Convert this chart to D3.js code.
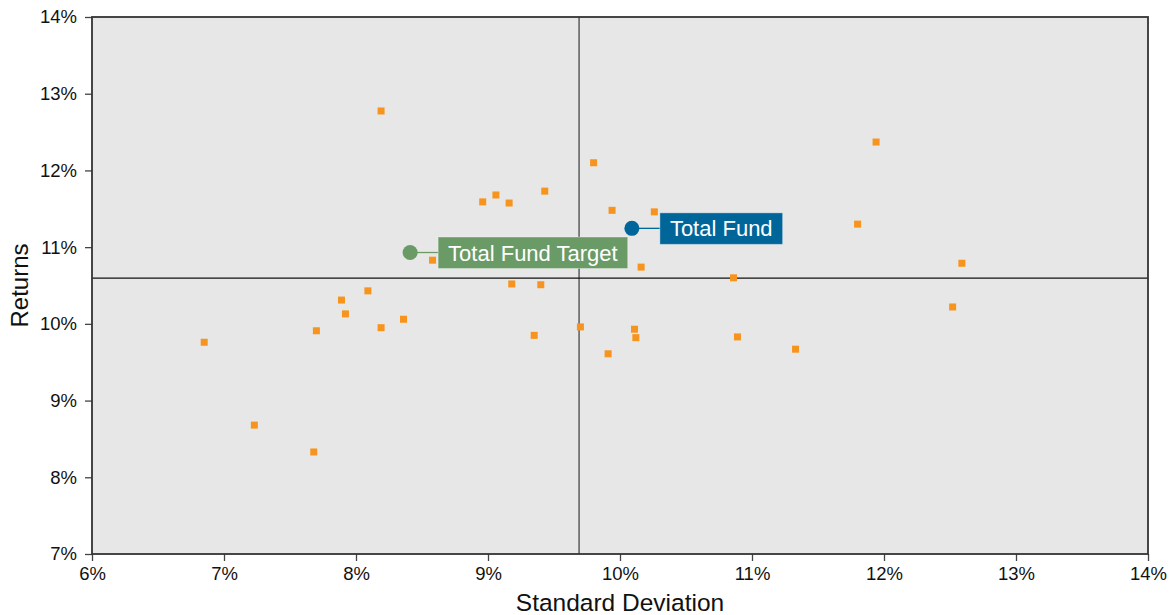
<!DOCTYPE html>
<html>
<head>
<meta charset="utf-8">
<script src="https://cdn.jsdelivr.net/npm/d3@7/dist/d3.min.js"></script>
<style>
    body { margin: 0; background: #fff; }
    svg text { font-family: "Liberation Sans", Arial, sans-serif; }
</style>
</head>
<body>
<div id="chart"></div>
<script>
// peer universe: standard deviation (%) and returns (%)
var peerStd = [8.19, 11.94, 9.80, 9.43, 9.06, 8.96, 9.16, 9.94, 10.26, 11.80,
    8.58, 10.16, 12.59, 10.86, 9.18, 9.40, 8.09, 7.89, 7.92, 8.36,
    12.52, 7.70, 8.19, 9.70, 10.11, 9.35, 10.12, 10.89, 11.33, 9.91,
    6.85, 7.23, 7.68];
var peerRet = [12.775, 12.37, 12.10, 11.73, 11.68, 11.59, 11.575, 11.48, 11.46, 11.30,
    10.83, 10.74, 10.79, 10.60, 10.52, 10.51, 10.43, 10.31, 10.13, 10.06,
    10.22, 9.91, 9.95, 9.96, 9.93, 9.85, 9.82, 9.83, 9.67, 9.61,
    9.76, 8.68, 8.33];

var fundNames = ["Total Fund", "Total Fund Target"];
var fundStd = [10.09, 8.41];
var fundRet = [11.245, 10.93];

// crosshair (median lines)
var medianStd = 9.69;
var medianRet = 10.595;

var xTicks = [6, 7, 8, 9, 10, 11, 12, 13, 14];
var yTicks = [7, 8, 9, 10, 11, 12, 13, 14];

var width = 1172, height = 615;
var margin = {top: 17, right: 24, bottom: 61, left: 92};

var svg = d3.select("#chart").append("svg")
    .attr("width", width)
    .attr("height", height);

var x = d3.scaleLinear().domain([6, 14]).range([margin.left, width - margin.right]);
var y = d3.scaleLinear().domain([7, 14]).range([height - margin.bottom, margin.top]);

//背景
svg.append("rect")
    .attr("x", x(6))
    .attr("y", y(14))
    .attr("width", x(14) - x(6))
    .attr("height", y(7) - y(14))
    .attr("fill", "#e7e7e7");

//坐标轴
var xAxis = d3.axisBottom(x).tickValues(xTicks).tickSize(7).tickPadding(6)
    .tickFormat(function (d) { return d + "%"; });
var yAxis = d3.axisLeft(y).tickValues(yTicks).tickSize(7).tickPadding(8)
    .tickFormat(function (d) { return d + "%"; });

var gx = svg.append("g")
    .attr("transform", "translate(0," + y(7) + ")")
    .call(xAxis);
var gy = svg.append("g")
    .attr("transform", "translate(" + x(6) + ",0)")
    .call(yAxis);

[gx, gy].forEach(function (g) {
    g.select(".domain").remove();
    g.selectAll("line").attr("stroke", "#444").attr("stroke-width", 1.3);
    g.selectAll("text").attr("font-size", 18.5).attr("fill", "#111");
});

//十字线
svg.append("line")
    .attr("x1", x(medianStd)).attr("x2", x(medianStd))
    .attr("y1", y(14)).attr("y2", y(7))
    .attr("stroke", "#666").attr("stroke-width", 1.6);
svg.append("line")
    .attr("x1", x(6)).attr("x2", x(14))
    .attr("y1", y(medianRet)).attr("y2", y(medianRet))
    .attr("stroke", "#111").attr("stroke-width", 1.2);

//边框
svg.append("rect")
    .attr("x", x(6))
    .attr("y", y(14))
    .attr("width", x(14) - x(6))
    .attr("height", y(7) - y(14))
    .attr("fill", "none")
    .attr("stroke", "#333")
    .attr("stroke-width", 1.8);

//同业散点
var sq = 7;
svg.append("g").selectAll("rect")
    .data(peerStd)
    .enter()
    .append("rect")
    .attr("x", function (d) { return x(d) - sq / 2; })
    .attr("y", function (d, i) { return y(peerRet[i]) - sq / 2; })
    .attr("width", sq)
    .attr("height", sq)
    .attr("fill", "#f7941d");

//基金标注
var fundColor = ["#00669a", "#6a9a66"];
var boxOffset = [28, 28];
var fund = svg.append("g");
fundNames.forEach(function (name, i) {
    var cx = x(fundStd[i]), cy = y(fundRet[i]);
    var col = fundColor[i];
    var g = fund.append("g");
    var bx = cx + boxOffset[i];
    var t = g.append("text")
        .attr("x", bx + 10)
        .attr("y", cy + 8)
        .attr("font-size", 22)
        .attr("fill", "#fff")
        .text(name);
    var w = t.node().getComputedTextLength() + 20;
    g.insert("rect", "text")
        .attr("x", bx)
        .attr("y", cy - 15.5)
        .attr("width", w)
        .attr("height", 31.5)
        .attr("fill", col)
        .attr("stroke", "rgba(255,255,255,0.35)")
        .attr("stroke-width", 1);
    g.insert("line", "rect")
        .attr("x1", cx).attr("x2", bx)
        .attr("y1", cy).attr("y2", cy)
        .attr("stroke", col).attr("stroke-width", 1.3);
    g.append("circle")
        .attr("cx", cx)
        .attr("cy", cy)
        .attr("r", 7.5)
        .attr("fill", col);
});

//坐标轴标题
svg.append("text")
    .attr("x", (x(6) + x(14)) / 2)
    .attr("y", 611)
    .attr("text-anchor", "middle")
    .attr("font-size", 24.5)
    .attr("fill", "#111")
    .text("Standard Deviation");
svg.append("text")
    .attr("transform", "translate(28," + (y(7) + y(14)) / 2 + ") rotate(-90)")
    .attr("text-anchor", "middle")
    .attr("font-size", 24)
    .attr("fill", "#111")
    .text("Returns");
</script>
</body>
</html>
